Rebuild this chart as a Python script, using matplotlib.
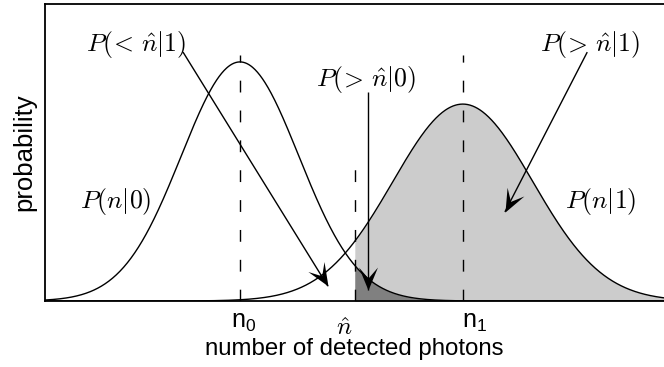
import numpy as np
import matplotlib
matplotlib.use("Agg")
import matplotlib.pyplot as plt
from matplotlib.path import Path
from matplotlib.markers import MarkerStyle
from matplotlib.transforms import Affine2D, ScaledTranslation

# ---- data (schematic distributions) ----
n0 = 3.15          # mean of P(n|0)
n1 = 6.75          # mean of P(n|1)
nhat = 5.0         # threshold
sigma0 = 0.95
sigma1 = 1.13
amp0 = 0.805
amp1 = 0.663
xmin, xmax = 0.0, 10.0
tick_positions = [n0, nhat, n1]
tick_labels = [r'$\mathrm{n}_0$', r'$\hat{n}$', r'$\mathrm{n}_1$']
tick_fonts = ['custom', 'cm', 'custom']
tick_offsets_px = [(4, 27), (-10, 34), (12, 27)]

plt.rcParams['mathtext.fontset'] = 'custom'
plt.rcParams['mathtext.rm'] = 'Liberation Sans'
plt.rcParams['mathtext.it'] = 'Liberation Sans:italic'
plt.rcParams['mathtext.bf'] = 'Liberation Sans:bold'
plt.rcParams['font.family'] = ['Liberation Sans', 'DejaVu Sans']

fig = plt.figure(figsize=(6.64, 3.67), dpi=100)
ax = fig.add_axes([45/664, 66/367, 619/664, 297/367])

x = np.linspace(xmin, xmax, 1000)
p0 = amp0 * np.exp(-(x - n0)**2 / (2 * sigma0**2))
p1 = amp1 * np.exp(-(x - n1)**2 / (2 * sigma1**2))

mask = x >= nhat
ax.fill_between(x, 0, p1, where=mask, color='#cccccc', lw=0, zorder=1)
ax.fill_between(x, 0, p0, where=mask, color='#808080', lw=0, zorder=2)
ax.plot(x, p0, color='black', lw=1.0, zorder=3)
ax.plot(x, p1, color='black', lw=1.0, zorder=3)

dash = (0, (8.5, 13))
ax.vlines([n0, n1], 0, 0.828, colors='black', linestyles=[dash], lw=1.0, zorder=3)
ax.vlines([nhat], 0, 0.50, colors='black', linestyles=[dash], lw=1.0, zorder=3)

ax.set_xlim(xmin, xmax)
ax.set_ylim(0, 1)
ax.set_xticks(tick_positions)
ax.set_xticklabels([''] * len(tick_positions))
ax.tick_params(axis='x', length=0)
ax.set_yticks([])
ax.spines['right'].set_visible(False)
for s in ['left', 'bottom', 'top']:
    ax.spines[s].set_linewidth(1.3)

# tick labels drawn as text at the tick positions
xt = ax.get_xaxis_transform()
for pos, lab, fam, (dx, dy) in zip(tick_positions, tick_labels, tick_fonts,
                                   tick_offsets_px):
    ax.text(pos, 0, lab, fontsize=18, math_fontfamily=fam, ha='center',
            va='baseline', clip_on=False,
            transform=xt + ScaledTranslation(dx / 100, -dy / 100,
                                             fig.dpi_scale_trans))

ax.set_xlabel('number of detected photons', fontsize=17.3)
ax.xaxis.set_label_coords(0.5, -0.125)
ax.set_ylabel('probability', fontsize=18.5)
ax.yaxis.set_label_coords(-0.014, 0.5)

# stealth-like arrow head
head = Path([(0, 0), (-23, 9.5), (-12, 0), (-23, -9.5), (0, 0)],
            [Path.MOVETO, Path.LINETO, Path.LINETO, Path.LINETO, Path.CLOSEPOLY])


def arrow(start, tip):
    ax.plot([start[0], tip[0]], [start[1], tip[1]], color='black', lw=1.0,
            zorder=4, solid_capstyle='butt')
    p0d = ax.transData.transform(start)
    p1d = ax.transData.transform(tip)
    ang = np.degrees(np.arctan2(p1d[1] - p0d[1], p1d[0] - p0d[0]))
    m = MarkerStyle(head, transform=Affine2D().rotate_deg(ang))
    ax.plot([tip[0]], [tip[1]], marker=m, markersize=33, color='black',
            markeredgewidth=0, linestyle='none', zorder=5)


kw = dict(fontsize=18.5, math_fontfamily='cm', ha='center', va='center')

ax.text(1.47, 0.865, r'$P(\!<\,\hat{n}|1)$', **kw)
arrow((2.23, 0.838), (4.57, 0.05))
ax.text(5.19, 0.745, r'$P(\!>\,\hat{n}|0)$', **kw)
arrow((5.22, 0.704), (5.22, 0.037))
ax.text(8.80, 0.865, r'$P(\!>\,\hat{n}|1)$', **kw)
arrow((8.76, 0.838), (7.43, 0.30))

ax.text(1.14, 0.335, r'$P(n|0)$', **kw)
ax.text(8.98, 0.335, r'$P(n|1)$', **kw)

fig.savefig('out.png', dpi=100)
